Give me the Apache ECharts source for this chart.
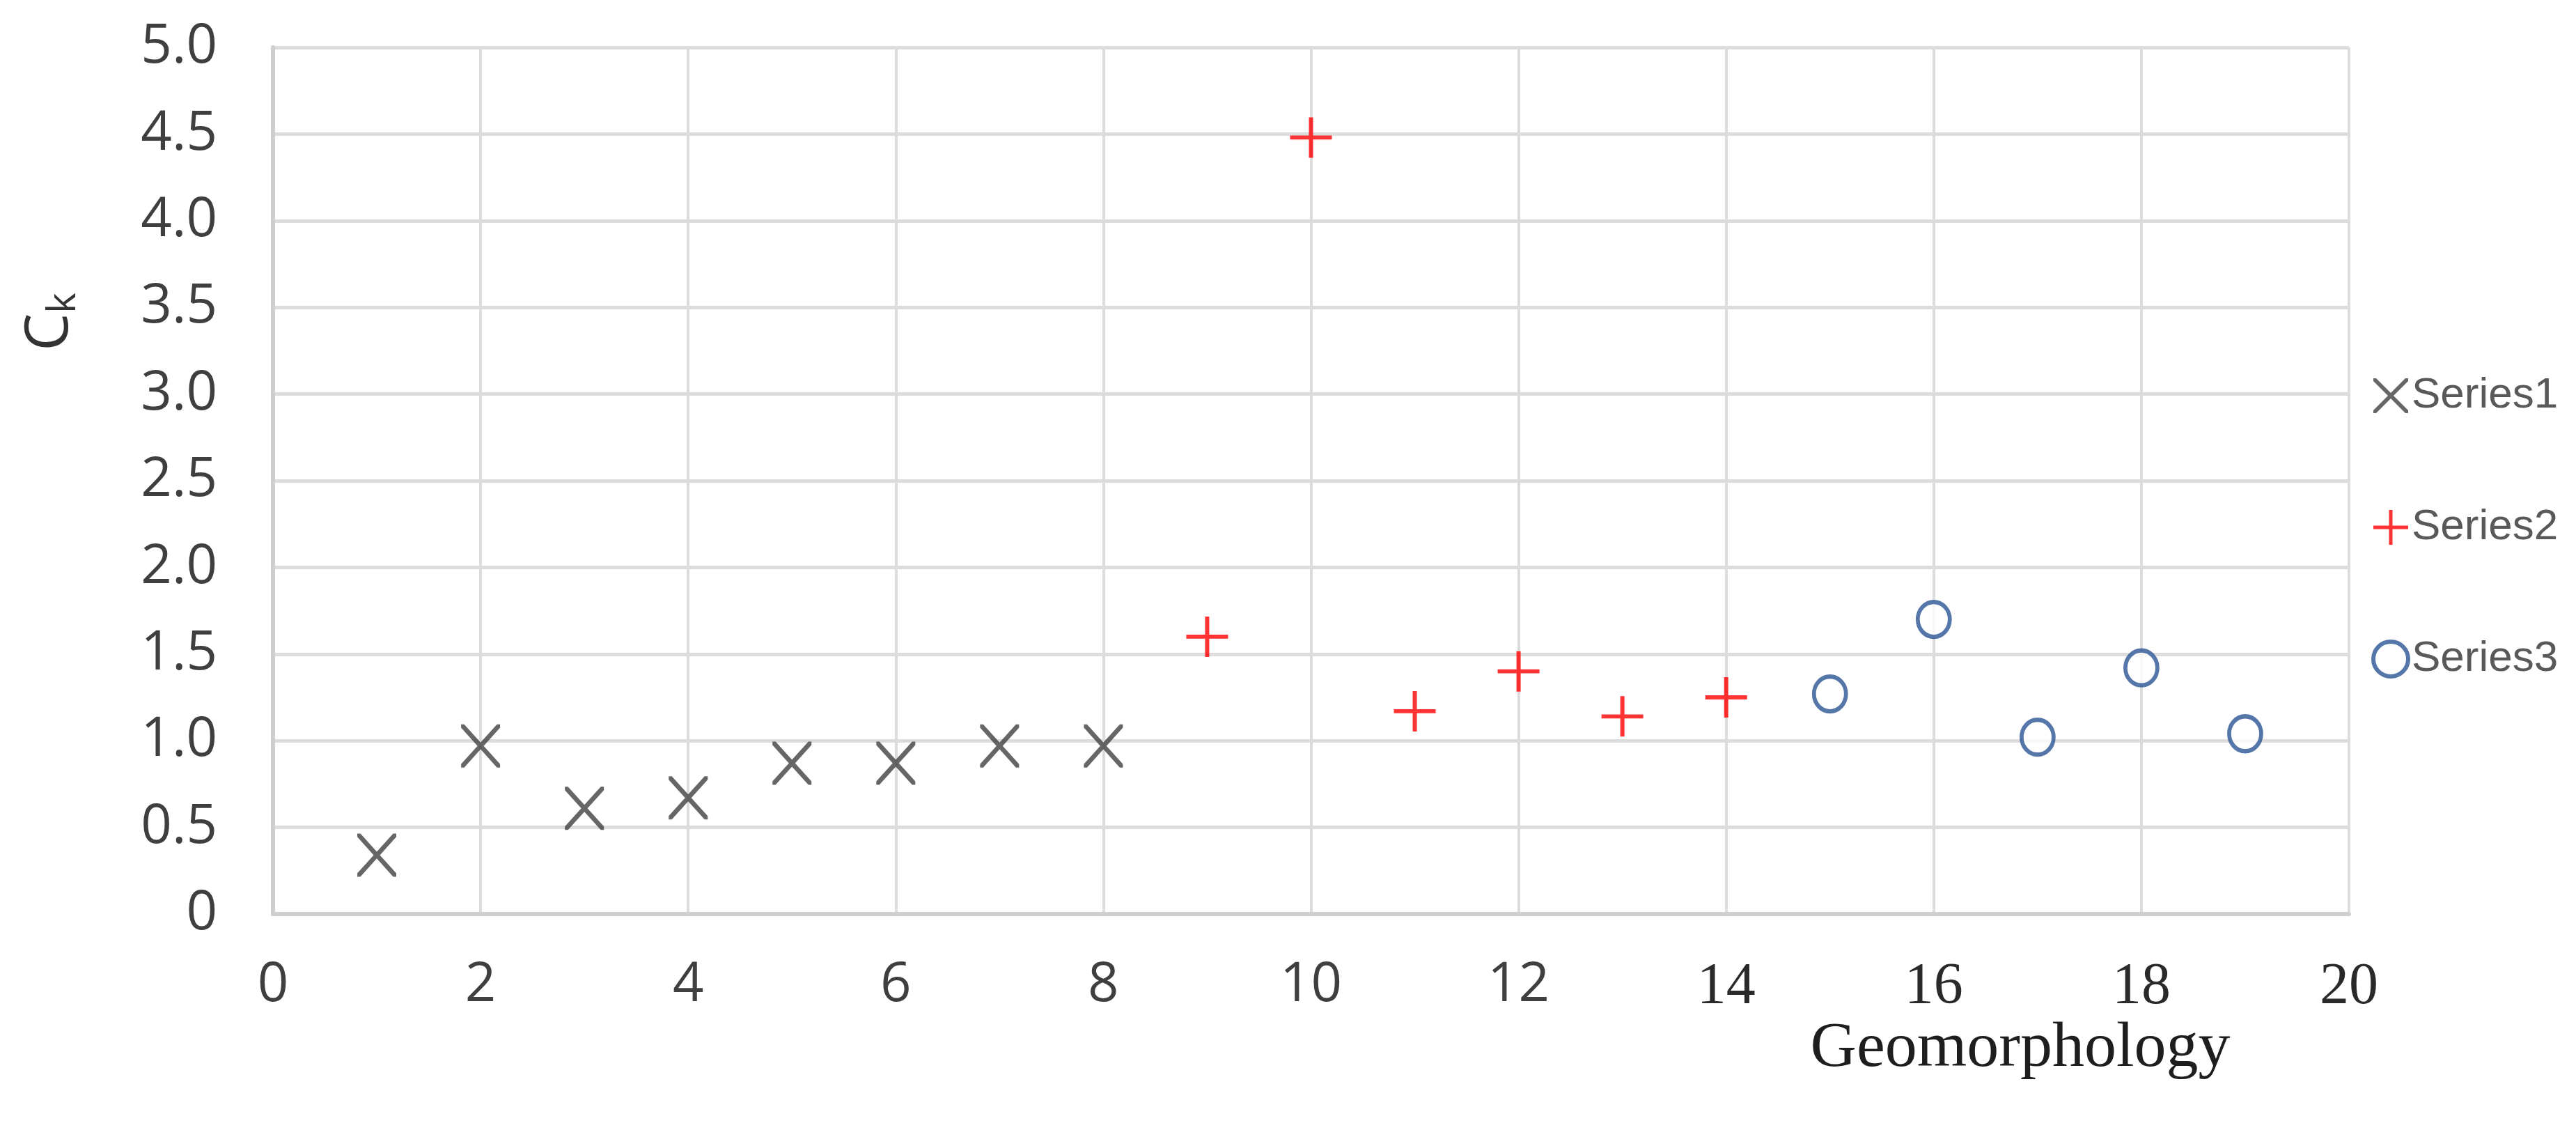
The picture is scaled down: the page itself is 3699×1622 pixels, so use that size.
<!DOCTYPE html>
<html>
<head>
<meta charset="utf-8">
<script src="https://cdn.jsdelivr.net/npm/echarts@6/dist/echarts.min.js"></script>
<style>
html,body{margin:0;padding:0;background:#fff;}
#chart{width:3699px;height:1622px;}
</style>
</head>
<body>
<div id="chart"></div>
<script>
// ---- data ----
const seriesNames = ['Series1', 'Series2', 'Series3'];
const s1x = [1, 2, 3, 4, 5, 6, 7, 8];
const s1y = [0.34, 0.97, 0.61, 0.67, 0.87, 0.87, 0.97, 0.97];
const s2x = [9, 10, 11, 12, 13, 14];
const s2y = [1.60, 4.48, 1.17, 1.40, 1.14, 1.25];
const s3x = [15, 16, 17, 18, 19];
const s3y = [1.27, 1.70, 1.02, 1.42, 1.04];
const yTickLabels = ['0', '0.5', '1.0', '1.5', '2.0', '2.5', '3.0', '3.5', '4.0', '4.5', '5.0'];
const xTickLabels = ['0', '2', '4', '6', '8', '10', '12', '14', '16', '18', '20'];
const xTitle = 'Geomorphology';

function pairs(xs, ys) { return xs.map((x, i) => [x, ys[i]]); }

const crossX = 'path://M0,0 L8,0 L50,42 L92,0 L100,0 L100,8 L58,50 L100,92 L100,100 L92,100 L50,58 L8,100 L0,100 L0,92 L42,50 L0,8 Z';
const plusP = 'path://M45,0 L55,0 L55,45 L100,45 L100,55 L55,55 L55,100 L45,100 L45,55 L0,55 L0,45 L45,45 Z';

const sans = '"Open Sans", "Noto Sans", sans-serif';
const serif = '"Liberation Serif", "DejaVu Serif", serif';
const blue = '#2B5493';

const chart = echarts.init(document.getElementById('chart'), null, { renderer: 'canvas' });
chart.setOption({
  backgroundColor: '#ffffff',
  animation: false,
  grid: { left: 392, right: 326, top: 68, bottom: 310, containLabel: false },
  xAxis: {
    type: 'value', min: 0, max: 20, interval: 2,
    axisLine: { show: true, onZero: false, lineStyle: { color: '#CFCFCF', width: 6 } },
    axisTick: { show: false },
    splitLine: { show: true, lineStyle: { color: '#DCDCDC', width: 4 } },
    axisLabel: {
      margin: 64,
      formatter: function (v) {
        const i = Math.round(v / 2);
        const t = xTickLabels[i];
        return v >= 14 ? '{s|' + t + '}' : '{n|' + t + '}';
      },
      rich: {
        n: { fontFamily: sans, fontSize: 78, color: '#3F3F3F' },
        s: { fontFamily: serif, fontSize: 84, color: '#2A2A2A' }
      }
    }
  },
  yAxis: {
    type: 'value', min: 0, max: 5, interval: 0.5,
    axisLine: { show: true, lineStyle: { color: '#CFCFCF', width: 6 } },
    axisTick: { show: false },
    splitLine: { show: true, lineStyle: { color: '#DCDCDC', width: 5 } },
    axisLabel: {
      margin: 80,
      fontFamily: sans, fontSize: 78, color: '#3F3F3F',
      formatter: function (v) { return yTickLabels[Math.round(v * 2)]; }
    }
  },
  legend: {
    orient: 'vertical',
    left: 3400, top: 532,
    itemWidth: 50, itemHeight: 50,
    itemGap: 127,
    textStyle: { fontFamily: '"Liberation Sans", Arial, sans-serif', fontSize: 62, color: '#595959', lineHeight: 50 },
    data: [
      { name: seriesNames[0] },
      { name: seriesNames[1] },
      { name: seriesNames[2], itemStyle: { color: '#FFFFFF', borderColor: blue, borderWidth: 6 } }
    ]
  },
  graphic: [
    {
      type: 'text', x: 72, y: 462, rotation: Math.PI / 2,
      style: {
        text: 'C{k|k}',
        fontFamily: sans, fontSize: 86, fill: '#333333',
        textAlign: 'center', textVerticalAlign: 'middle',
        rich: { k: { fontFamily: sans, fontSize: 56, fill: '#333333', padding: [40, 0, 0, 0] } }
      }
    },
    {
      type: 'text', x: 2901, y: 1552,
      style: {
        text: xTitle, fontFamily: serif, fontSize: 92, fill: '#1E1E1E',
        textAlign: 'center', textVerticalAlign: 'bottom'
      }
    }
  ],
  series: [
    {
      name: seriesNames[0], type: 'scatter', data: pairs(s1x, s1y),
      symbol: crossX, symbolSize: [56, 62],
      itemStyle: { color: '#404040' }
    },
    {
      name: seriesNames[1], type: 'scatter', data: pairs(s2x, s2y),
      symbol: plusP, symbolSize: [60, 58],
      itemStyle: { color: '#FF0000' }
    },
    {
      name: seriesNames[2], type: 'scatter', data: pairs(s3x, s3y),
      symbol: 'circle', symbolSize: [46, 50],
      itemStyle: { color: '#FFFFFF', borderColor: blue, borderWidth: 6 }
    }
  ]
});
</script>
</body>
</html>
